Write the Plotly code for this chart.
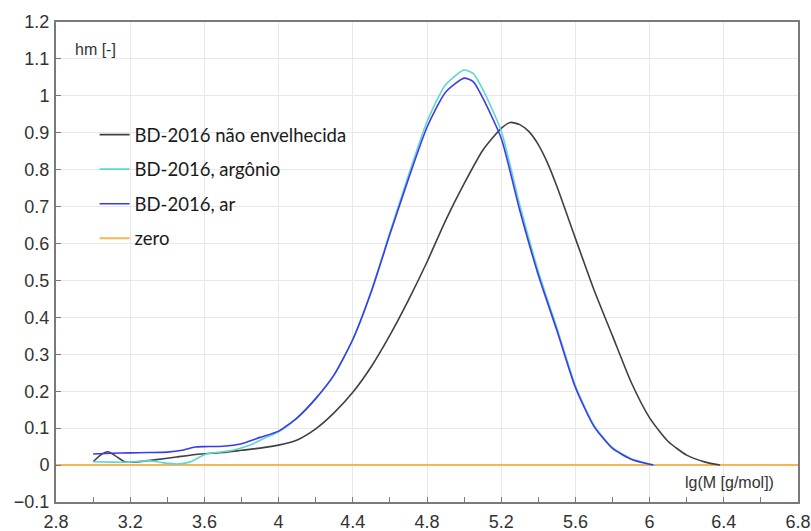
import plotly.graph_objects as go

# --- data ---
x_unaged = [3.00, 3.04, 3.08, 3.12, 3.17, 3.22, 3.33, 3.45, 3.58, 3.70, 3.80, 3.90, 4.00, 4.10,
            4.20, 4.30, 4.40, 4.50, 4.60, 4.70, 4.80, 4.90, 5.00, 5.10, 5.20, 5.25, 5.30, 5.35,
            5.40, 5.45, 5.50, 5.60, 5.70, 5.80, 5.90, 6.00, 6.10, 6.20, 6.30, 6.38]
y_unaged = [0.009, 0.027, 0.036, 0.025, 0.009, 0.008, 0.014, 0.022, 0.030, 0.034, 0.040, 0.046,
            0.054, 0.068, 0.098, 0.142, 0.197, 0.267, 0.352, 0.447, 0.550, 0.662, 0.762, 0.852,
            0.912, 0.928, 0.922, 0.903, 0.868, 0.818, 0.755, 0.614, 0.475, 0.350, 0.225, 0.128,
            0.064, 0.027, 0.008, 0.0]

x_argon = [3.00, 3.10, 3.20, 3.30, 3.38, 3.45, 3.52, 3.61, 3.70, 3.76, 3.85, 3.92, 4.00, 4.10,
           4.20, 4.30, 4.40, 4.50, 4.60, 4.70, 4.80, 4.90, 5.00, 5.05, 5.10, 5.20, 5.30, 5.40,
           5.50, 5.60, 5.70, 5.80, 5.90, 6.00, 6.03]
y_argon = [0.009, 0.008, 0.008, 0.012, 0.006, 0.003, 0.008, 0.030, 0.036, 0.041, 0.055, 0.072,
           0.090, 0.128, 0.180, 0.245, 0.340, 0.472, 0.630, 0.785, 0.930, 1.030, 1.070, 1.060,
           1.018, 0.905, 0.705, 0.525, 0.372, 0.215, 0.108, 0.047, 0.017, 0.003, 0.0]

x_air = [3.00, 3.10, 3.20, 3.30, 3.40, 3.48, 3.55, 3.60, 3.70, 3.80, 3.90, 4.00, 4.10, 4.20,
         4.30, 4.40, 4.50, 4.60, 4.70, 4.80, 4.90, 5.00, 5.05, 5.10, 5.20, 5.30, 5.40, 5.50,
         5.60, 5.70, 5.80, 5.90, 6.00, 6.02]
y_air = [0.030, 0.032, 0.033, 0.034, 0.035, 0.040, 0.049, 0.050, 0.051, 0.058, 0.075, 0.092,
         0.128, 0.180, 0.245, 0.340, 0.470, 0.625, 0.775, 0.915, 1.010, 1.048, 1.038, 0.995,
         0.885, 0.690, 0.515, 0.365, 0.210, 0.105, 0.045, 0.016, 0.002, 0.0]

x_zero = [2.8, 6.8]
y_zero = [0.0, 0.0]

names = ["BD-2016 não envelhecida", "BD-2016, argônio", "BD-2016, ar", "zero"]
colors = ["#404040", "#5ED6D2", "#3B3BEE", "#FBB454"]

fig = go.Figure()
data_map = {0: (x_unaged, y_unaged), 1: (x_argon, y_argon), 2: (x_air, y_air), 3: (x_zero, y_zero)}
for i in [3, 0, 1, 2]:
    xs, ys = data_map[i]
    fig.add_trace(go.Scatter(
        x=xs, y=ys, mode="lines", name=names[i],
        line=dict(color=colors[i], width=2 if i == 3 else 1.6,
                  shape="linear" if i == 3 else "spline", smoothing=0.6),
        legendgroup=f"g{i}", legendrank=i + 1,
    ))

TICKFONT = dict(family="Liberation Sans, Arial, sans-serif", size=18, color="#333333")
ANNFONT = dict(family="Liberation Sans, Arial, sans-serif", size=16, color="#333333")

fig.update_layout(
    width=811, height=531,
    margin=dict(l=56, r=13, t=22, b=29),
    paper_bgcolor="white", plot_bgcolor="white",
    showlegend=True,
    legend=dict(x=0.052, y=0.804, xanchor="left", yanchor="top",
                font=dict(family="Lato", size=18.5, color="#1a1a1a"),
                bgcolor="rgba(0,0,0,0)", tracegroupgap=7.5, traceorder="grouped"),
)

fig.update_xaxes(
    range=[2.8, 6.8], tick0=2.8, dtick=0.4, automargin=False,
    showgrid=True, gridcolor="#e8e8e8", gridwidth=1,
    showline=True, linecolor="#7a7a7a", linewidth=2, mirror=True,
    ticks="inside", ticklen=5, tickcolor="#7a7a7a",
    minor=dict(dtick=0.2, tick0=2.8, ticks="inside", ticklen=5, tickcolor="#7a7a7a", showgrid=False),
    tickfont=TICKFONT, ticklabelstandoff=2, zeroline=False,
)
fig.update_yaxes(
    range=[-0.1, 1.2], tick0=-0.1, dtick=0.1, automargin=False,
    showgrid=True, gridcolor="#e8e8e8", gridwidth=1,
    showline=True, linecolor="#7a7a7a", linewidth=2, mirror=True,
    ticks="inside", ticklen=5, tickcolor="#7a7a7a",
    tickfont=TICKFONT, ticklabelstandoff=1, zeroline=False,
)

fig.add_annotation(x=2.89, y=1.125, xref="x", yref="y", text="hm [-]", showarrow=False,
                   xanchor="left", yanchor="middle", font=ANNFONT)
fig.add_annotation(x=6.68, y=-0.046, xref="x", yref="y", text="lg(M [g/mol])", showarrow=False,
                   xanchor="right", yanchor="middle", font=ANNFONT)

fig.write_html("out.html")
